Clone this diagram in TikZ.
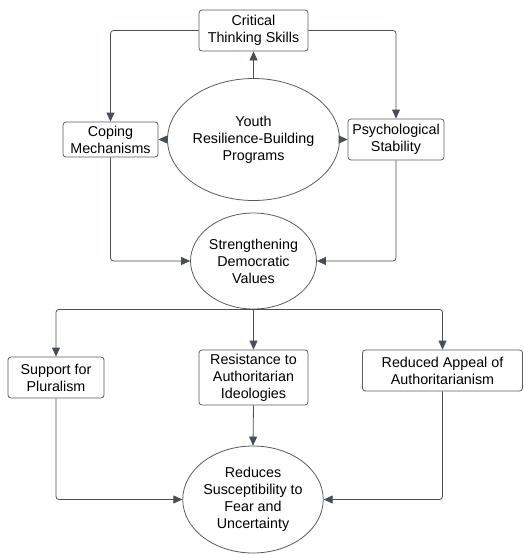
\documentclass[tikz,border=0pt]{standalone}
\usepackage{fontspec}
\setmainfont{Liberation Sans}
\usetikzlibrary{arrows.meta,shapes.geometric}
\definecolor{linec}{RGB}{72,78,88}
\definecolor{boxc}{RGB}{90,90,95}
\tikzset{
  box/.style={draw=boxc,line width=0.8pt,rounded corners=3pt,align=center,inner sep=0pt,
    font=\fontsize{14.3}{17}\selectfont},
  oval/.style={draw=boxc,line width=0.8pt,ellipse,align=center,inner sep=0pt,
    font=\fontsize{14.3}{17}\selectfont},
  conn/.style={draw=linec,line width=0.8pt,rounded corners=3pt,
    -{Triangle[length=9pt,width=8pt]}},
}
\begin{document}
\begin{tikzpicture}[x=1pt,y=-1pt]
\useasboundingbox (0,0) rectangle (524,554);
\node[box,minimum width=109pt,minimum height=41pt] (crit) at (253.5,30.5) {Critical\\Thinking Skills};
\node[oval,minimum width=137pt,minimum height=122pt] (you) at (253.5,139.5) {Youth\\Resilience-Building\\Programs};
\node[box,minimum width=95pt,minimum height=35pt] (cop) at (110.5,139.5) {Coping\\Mechanisms};
\node[box,minimum width=96pt,minimum height=41pt] (psy) at (396,139.5) {Psychological\\Stability};
\node[oval,minimum width=109pt,minimum height=96pt] (str) at (253.5,261) {Strengthening\\Democratic\\Values};
\node[box,minimum width=96pt,minimum height=41pt] (sup) at (56,377.5) {Support for\\Pluralism};
\node[box,minimum width=109pt,minimum height=55pt] (res) at (253.5,377.5) {Resistance to\\Authoritarian\\Ideologies};
\node[box,minimum width=160pt,minimum height=41pt] (red) at (442.5,370.5) {Reduced Appeal of\\Authoritarianism};
\node[oval,minimum width=108pt,minimum height=107pt] (rdc) at (253,499.5) {Reduces\\Susceptibility to\\Fear and\\Uncertainty};
\draw[conn] (crit.west) -| (cop.north);
\draw[conn] (crit.east) -| (psy.north);
\draw[conn] (you.north) -- (crit.south);
\draw[conn] (you.west) -- (cop.east);
\draw[conn] (you.east) -- (psy.west);
\draw[conn] (cop.south) |- (str.west);
\draw[conn] (psy.south) |- (str.east);
\draw[conn] (str.south) -- (res.north);
\draw[conn] (str.south) -| (sup.north);
\draw[conn] (str.south) -| (red.north);
\draw[conn] (res.south) -- (rdc.north);
\draw[conn] (sup.south) |- (rdc.west);
\draw[conn] (red.south) |- (rdc.east);
\end{tikzpicture}
\end{document}
